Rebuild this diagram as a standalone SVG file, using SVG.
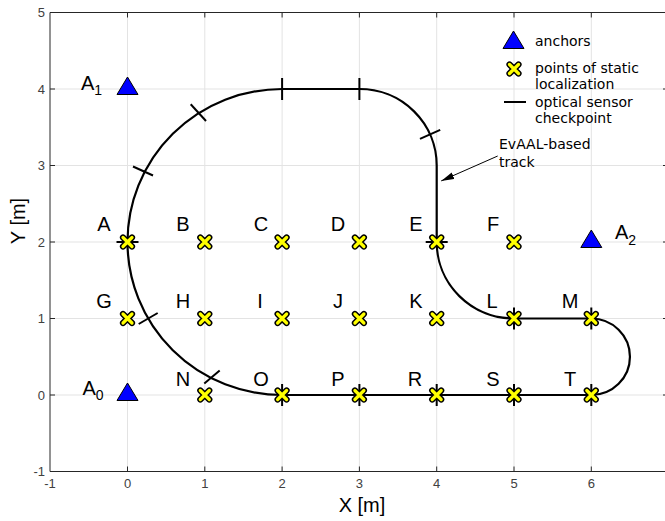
<svg xmlns="http://www.w3.org/2000/svg" width="665" height="521" viewBox="0 0 665 521">
<style>
.grid{stroke:#e3e3e3;stroke-width:1;fill:none}
.axis{stroke:#262626;stroke-width:1;fill:none}
.tl{font-family:"Liberation Sans",Arial,sans-serif;font-size:13px;fill:#404040}
.lbl{font-family:"Liberation Sans",Arial,sans-serif;font-size:20px;fill:#000;text-anchor:middle}
.anc{font-family:"Liberation Sans",Arial,sans-serif;font-size:20px;fill:#000}
.leg{font-family:"DejaVu Sans",sans-serif;font-size:14px;fill:#000}
.track{stroke:#000;stroke-width:2.2;fill:none}
.cp{stroke:#000;stroke-width:2;fill:none}
.tri{fill:#0000ff;stroke:#000;stroke-width:1}
</style>
<defs>
<g id="mk">
<path d="M-4.5,-4.5 L4.5,4.5 M-4.5,4.5 L4.5,-4.5" stroke="#000" stroke-width="6.2" stroke-linecap="round" fill="none"/>
<path d="M-4.5,-4.5 L4.5,4.5 M-4.5,4.5 L4.5,-4.5" stroke="#ffff00" stroke-width="3.2" stroke-linecap="round" fill="none"/>
</g>
<path id="tr" d="M0,-12 L10.5,5.5 L-10.5,5.5 Z"/>
<marker id="arr" markerWidth="14" markerHeight="8" refX="13" refY="4" orient="auto" markerUnits="userSpaceOnUse">
<path d="M0,0.5 L13,4 L0,7.5 Z" fill="#000"/>
</marker>
</defs>
<rect x="0" y="0" width="665" height="521" fill="#fff"/>
<g id="grid" class="grid">
<path d="M127.5,12.5V471.5M204.8,12.5V471.5M282.1,12.5V471.5M359.4,12.5V471.5M436.7,12.5V471.5M514,12.5V471.5M591.3,12.5V471.5"/>
<path d="M50,89H668M50,165.5H668M50,242H668M50,318.5H668M50,395H668"/>
</g>
<g id="axes" class="axis">
<path d="M50,12.5H668M50,471.5H668M50,12.5V471.5M668,12.5V471.5"/>
<path d="M127.5,471.5v-5M204.8,471.5v-5M282.1,471.5v-5M359.4,471.5v-5M436.7,471.5v-5M514,471.5v-5M591.3,471.5v-5"/>
<path d="M127.5,12.5v5M204.8,12.5v5M282.1,12.5v5M359.4,12.5v5M436.7,12.5v5M514,12.5v5M591.3,12.5v5"/>
<path d="M50,89h5M50,165.5h5M50,242h5M50,318.5h5M50,395h5"/>
<path d="M668,89h-5M668,165.5h-5M668,242h-5M668,318.5h-5M668,395h-5"/>
</g>
<g id="ticklabels" class="tl">
<text x="50" y="488" text-anchor="middle">-1</text>
<text x="127.5" y="488" text-anchor="middle">0</text>
<text x="204.8" y="488" text-anchor="middle">1</text>
<text x="282.1" y="488" text-anchor="middle">2</text>
<text x="359.4" y="488" text-anchor="middle">3</text>
<text x="436.7" y="488" text-anchor="middle">4</text>
<text x="514" y="488" text-anchor="middle">5</text>
<text x="591.3" y="488" text-anchor="middle">6</text>
<text x="668.6" y="488" text-anchor="middle">7</text>
<text x="45" y="17.2" text-anchor="end">5</text>
<text x="45" y="93.7" text-anchor="end">4</text>
<text x="45" y="170.2" text-anchor="end">3</text>
<text x="45" y="246.7" text-anchor="end">2</text>
<text x="45" y="323.2" text-anchor="end">1</text>
<text x="45" y="399.7" text-anchor="end">0</text>
<text x="45" y="476.2" text-anchor="end">-1</text>
</g>
<text id="xlabel" x="362" y="512" class="lbl">X [m]</text>
<text id="ylabel" transform="translate(25,221) rotate(-90)" class="lbl">Y [m]</text>
<g id="connectors">
<path id="track" class="track" d="M282.1,89 L359.4,89 A77.3,76.5 0 0 1 436.7,165.5 L436.7,242 A77.3,76.5 0 0 0 514,318.5 L591.3,318.5 A38.65,38.25 0 0 1 591.3,395 L282.1,395 A154.6,153 0 0 1 127.5,242 A154.6,153 0 0 1 282.1,89 Z"/>
<g id="checkpoints" class="cp">
<path d="M133,166.5L153,175.5"/>
<path d="M190.7,104.3L206,121"/>
<path d="M282.1,78V100"/>
<path d="M359.4,78V100"/>
<path d="M420,138.9L440.2,129.9"/>
<path d="M425.7,242H447.7"/>
<path d="M116.5,242H138.5"/>
<path d="M138.7,324L157.7,313"/>
<path d="M204.3,383.4L219.7,370.6"/>
<path d="M514,307.5V329.5"/>
<path d="M591.3,307.5V329.5"/>
<path d="M282.1,384V406"/>
<path d="M359.4,384V406"/>
<path d="M436.7,384V406"/>
<path d="M514,384V406"/>
<path d="M591.3,384V406"/>
</g>
<path id="annot-arrow" d="M497.7,156 L441.2,180.9" stroke="#000" stroke-width="1" fill="none" marker-end="url(#arr)"/>
</g>
<g id="points">
<g id="A"><use href="#mk" x="127.5" y="242"/><text class="lbl" x="104" y="231">A</text></g>
<g id="B"><use href="#mk" x="204.8" y="242"/><text class="lbl" x="183" y="231">B</text></g>
<g id="C"><use href="#mk" x="282.1" y="242"/><text class="lbl" x="261" y="231">C</text></g>
<g id="D"><use href="#mk" x="359.4" y="242"/><text class="lbl" x="338" y="231">D</text></g>
<g id="E"><use href="#mk" x="436.7" y="242"/><text class="lbl" x="416" y="231">E</text></g>
<g id="F"><use href="#mk" x="514" y="242"/><text class="lbl" x="493" y="231">F</text></g>
<g id="G"><use href="#mk" x="127.5" y="318.5"/><text class="lbl" x="104" y="308">G</text></g>
<g id="H"><use href="#mk" x="204.8" y="318.5"/><text class="lbl" x="183" y="308">H</text></g>
<g id="I"><use href="#mk" x="282.1" y="318.5"/><text class="lbl" x="260" y="308">I</text></g>
<g id="J"><use href="#mk" x="359.4" y="318.5"/><text class="lbl" x="338" y="308">J</text></g>
<g id="K"><use href="#mk" x="436.7" y="318.5"/><text class="lbl" x="416" y="308">K</text></g>
<g id="L"><use href="#mk" x="514" y="318.5"/><text class="lbl" x="492" y="308">L</text></g>
<g id="M"><use href="#mk" x="591.3" y="318.5"/><text class="lbl" x="570" y="308">M</text></g>
<g id="N"><use href="#mk" x="204.8" y="395"/><text class="lbl" x="183" y="386">N</text></g>
<g id="O"><use href="#mk" x="282.1" y="395"/><text class="lbl" x="261" y="386">O</text></g>
<g id="P"><use href="#mk" x="359.4" y="395"/><text class="lbl" x="338" y="386">P</text></g>
<g id="R"><use href="#mk" x="436.7" y="395"/><text class="lbl" x="415" y="386">R</text></g>
<g id="S"><use href="#mk" x="514" y="395"/><text class="lbl" x="493" y="386">S</text></g>
<g id="T"><use href="#mk" x="591.3" y="395"/><text class="lbl" x="570" y="386">T</text></g>
</g>
<g id="anchors">
<g id="A1"><use href="#tr" class="tri" x="127.5" y="89"/><text class="anc" x="81" y="90">A<tspan font-size="14" dy="4.5">1</tspan></text></g>
<g id="A0"><use href="#tr" class="tri" x="127.5" y="395"/><text class="anc" x="82.5" y="395">A<tspan font-size="14" dy="4.5">0</tspan></text></g>
<g id="A2"><use href="#tr" class="tri" x="591.3" y="242"/><text class="anc" x="615" y="239">A<tspan font-size="14" dy="6">2</tspan></text></g>
</g>
<g id="annotation">
<text class="leg" x="499" y="149">EvAAL-based</text>
<text class="leg" x="499" y="167">track</text>
</g>
<g id="legend">
<use href="#tr" class="tri" x="513.5" y="43"/>
<text class="leg" x="535" y="46">anchors</text>
<use href="#mk" x="514" y="69"/>
<text class="leg" x="535" y="73">points of static</text>
<text class="leg" x="535" y="89">localization</text>
<path d="M504,102H526" stroke="#000" stroke-width="2"/>
<text class="leg" x="535" y="107">optical sensor</text>
<text class="leg" x="535" y="123">checkpoint</text>
</g>
</svg>
